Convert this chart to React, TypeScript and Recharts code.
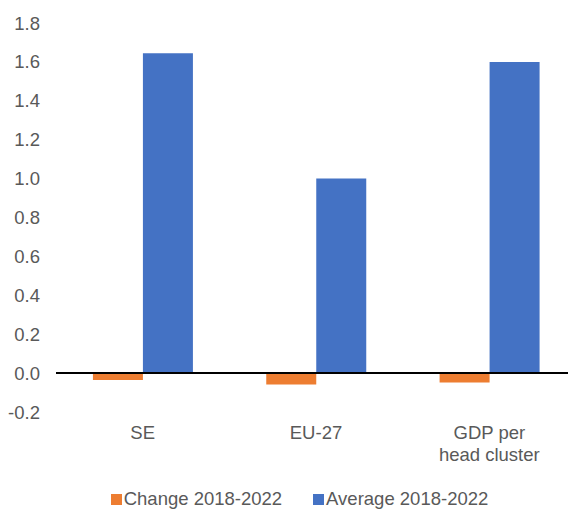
import React from "react";
import { BarChart, Bar, XAxis, YAxis, ReferenceLine, Legend } from "recharts";

const categories = ["SE", "EU-27", "GDP per head cluster"];
const changeValues = [-0.036, -0.058, -0.048];
const averageValues = [1.645, 1.0, 1.6];
const yTicks = [-0.2, 0, 0.2, 0.4, 0.6, 0.8, 1.0, 1.2, 1.4, 1.6, 1.8];
const seriesNames = ["Change 2018-2022", "Average 2018-2022"];

const data = categories.map((c, i) => ({
  name: c,
  change: changeValues[i],
  average: averageValues[i],
}));

const FONT = "'Liberation Sans', Arial, sans-serif";
const FONT_SIZE = 18.5;
const TEXT = "#595959";
const ORANGE = "#ED7D31";
const BLUE = "#4472C4";

let ctx: CanvasRenderingContext2D | null = null;
function measure(s: string): number {
  if (!ctx && typeof document !== "undefined") {
    ctx = document.createElement("canvas").getContext("2d");
  }
  if (!ctx) return s.length * FONT_SIZE * 0.55;
  ctx.font = `${FONT_SIZE}px 'Liberation Sans', Arial, sans-serif`;
  return ctx.measureText(s).width;
}

function wrap(label: string, maxWidth: number): string[] {
  const words = label.split(" ");
  const lines: string[] = [];
  let cur = "";
  for (const w of words) {
    const next = cur ? cur + " " + w : w;
    if (cur && measure(next) > maxWidth) {
      lines.push(cur);
      cur = w;
    } else {
      cur = next;
    }
  }
  if (cur) lines.push(cur);
  return lines;
}

const XTick = (props: any) => {
  const { x, y, payload } = props;
  const lines = wrap(String(payload.value), 110);
  return (
    <text
      x={x}
      y={y}
      textAnchor="middle"
      fill={TEXT}
      fontSize={FONT_SIZE}
      fontFamily={FONT}
    >
      {lines.map((l, i) => (
        <tspan key={i} x={x} dy={i === 0 ? 13 : 22}>
          {l}
        </tspan>
      ))}
    </text>
  );
};

const LegendContent = () => {
  const items = [
    { name: seriesNames[0], color: ORANGE },
    { name: seriesNames[1], color: BLUE },
  ];
  return (
    <div
      style={{
        display: "flex",
        justifyContent: "center",
        alignItems: "center",
        height: 24,
        paddingLeft: 15,
        fontFamily: FONT,
        fontSize: FONT_SIZE,
        color: TEXT,
      }}
    >
      {items.map((it, i) => (
        <div key={it.name} style={{ display: "flex", alignItems: "center", marginLeft: i === 0 ? 0 : 31 }}>
          <span style={{ display: "inline-block", width: 11, height: 11, background: it.color, marginRight: 2 }} />
          <span>{it.name}</span>
        </div>
      ))}
    </div>
  );
};

export default function App() {
  return (
    <BarChart
      width={568}
      height={503}
      data={data}
      margin={{ top: 15, right: 0, bottom: 0, left: 0 }}
      barCategoryGap="21.3%"
      barGap={0}
    >
      <YAxis
        width={48}
        domain={[-0.2, 1.8]}
        ticks={yTicks}
        interval={0}
        axisLine={false}
        tickLine={false}
        tickSize={0}
        tickMargin={16}
        tickFormatter={(v: number) => v.toFixed(1)}
        tick={{ fill: TEXT, fontSize: FONT_SIZE, fontFamily: FONT }}
      />
      <XAxis
        dataKey="name"
        height={75}
        axisLine={false}
        tickLine={false}
        tickSize={0}
        tickMargin={14}
        interval={0}
        tick={<XTick />}
      />
      <Legend verticalAlign="bottom" height={24} content={<LegendContent />} />
      <Bar dataKey="change" name={seriesNames[0]} fill={ORANGE} isAnimationActive={false} />
      <Bar dataKey="average" name={seriesNames[1]} fill={BLUE} isAnimationActive={false} />
      <ReferenceLine y={0} stroke="#000" strokeWidth={2} />
    </BarChart>
  );
}
